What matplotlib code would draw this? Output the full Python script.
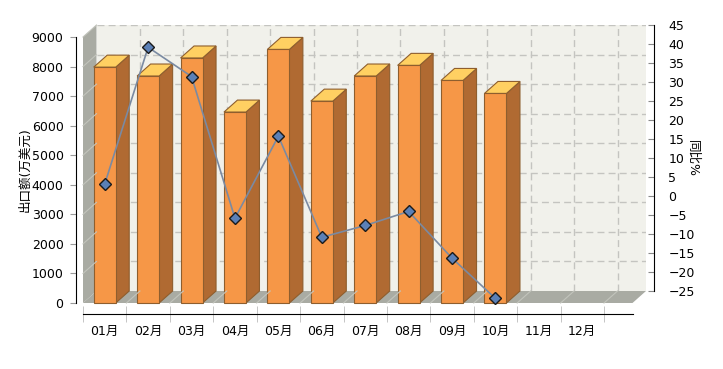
import matplotlib
matplotlib.use('Agg')
import matplotlib.pyplot as plt
from matplotlib.patches import Polygon, Rectangle

plt.rcParams['font.family'] = ['DejaVu Sans', 'Noto Sans CJK SC']

months = ['01月', '02月', '03月', '04月', '05月', '06月',
          '07月', '08月', '09月', '10月', '11月', '12月']
export = [7980, 7680, 8290, 6460, 8580, 6830, 7680, 8040, 7530, 7090]
yoy = [6.3, 42.3, 34.6, -2.7, 18.9, -7.7, -4.6, -0.9, -13.2, -23.8]

W, H = 723, 369
fig = plt.figure(figsize=(W / 100, H / 100), dpi=100)

# pixel geometry of the front plane
x0, x12, y0, y9k = 83, 604, 303, 37
cat_px = (x12 - x0) / 12
ddx_px, ddy_px = 13.5, 12
xend = 12 + 28.5 / cat_px          # floor / axis run past the last category
dxd = ddx_px / cat_px
dyd = ddy_px / (y0 - y9k) * 9000

# back wall axes (grid) + right axis
bl = (x0 + ddx_px) / W
bb = (H - (y0 - ddy_px)) / H
bw = (x12 - x0) / W * xend / 12
bh = (y0 - y9k) / H
axb = fig.add_axes([bl, bb, bw, bh])
axb.set_xlim(0, xend)
axb.set_ylim(0, 9000)
axb.set_facecolor('#f1f1eb')
for s in axb.spines.values():
    s.set_visible(False)
axb.set_xticks(range(1, 13))
axb.set_yticks(range(1000, 9001, 1000))
axb.grid(True, color='#c4c4c0', linestyle=(0, (5, 3)), linewidth=1)

axr = axb.twinx()
axb.tick_params(left=False, bottom=False, labelleft=False, labelbottom=False)
axr.set_ylim(-25, 45)
axr.set_yticks(range(-25, 46, 5))
for k in ['left', 'top', 'bottom']:
    axr.spines[k].set_visible(False)
axr.spines['right'].set_position(('outward', 6))
axr.tick_params(axis='y', direction='in', length=4, color='#888888',
                labelsize=9, pad=10)

# front plane axes
ax = fig.add_axes([x0 / W, (H - y0) / H, (x12 - x0) / W, (y0 - y9k) / H])
ax.patch.set_visible(False)
ax.set_xlim(0, 12)
ax.set_ylim(0, 9000)
ax.spines['top'].set_visible(False)
ax.spines['right'].set_visible(False)
ax.spines['left'].set_position(('outward', 5))
ax.spines['bottom'].set_position(('outward', 8))
ax.spines['bottom'].set_bounds(0, xend)

wall = '#a9aba3'
ax.add_patch(Polygon([(0, 0), (0, 9000), (dxd, 9000 + dyd), (dxd, dyd)],
                     closed=True, fc=wall, ec='none', clip_on=False))
ax.add_patch(Polygon([(0, 0), (xend, 0), (xend + dxd, dyd), (dxd, dyd)],
                     closed=True, fc=wall, ec='none', clip_on=False))
for v in range(1000, 9001, 1000):
    ax.plot([0, dxd], [v, v + dyd], color='#c2c4bc', lw=0.8, clip_on=False)
for k in range(1, 13):
    ax.plot([k, k + dxd], [0, dyd], color='#c2c4bc', lw=0.8, clip_on=False)

bw_cat = 22 / cat_px
edge = '#8e5e2e'
for i, v in enumerate(export):
    xa = i + 0.5 - bw_cat / 2
    xb = xa + bw_cat
    ax.add_patch(Polygon([(xb, 0), (xb + dxd, dyd), (xb + dxd, v + dyd), (xb, v)],
                         closed=True, fc='#b06a32', ec=edge, lw=0.8, clip_on=False))
    ax.add_patch(Polygon([(xa, v), (xb, v), (xb + dxd, v + dyd), (xa + dxd, v + dyd)],
                         closed=True, fc='#ffd062', ec=edge, lw=0.8, clip_on=False))
    ax.add_patch(Rectangle((xa, 0), bw_cat, v, fc='#f69747', ec=edge, lw=0.8,
                           clip_on=False))

axl = ax.twinx()
axl.set_ylim(-25, 45)
axl.axis('off')
axl.plot([i + 0.5 for i in range(len(yoy))], yoy, color='#7a8aa2', lw=1.2,
         marker='D', ms=6.5, mfc='#5b80b6', mec='#1a1a1a', mew=1, clip_on=False)

ax.set_yticks(range(0, 9001, 1000))
ax.tick_params(axis='y', length=4, color='#999999', labelsize=9, pad=5)
ax.set_xticks([i + 0.5 for i in range(12)])
ax.set_xticklabels(months)
ax.set_xticks(range(13), minor=True)
ax.tick_params(axis='x', which='major', length=0, labelsize=9, pad=8)
ax.tick_params(axis='x', which='minor', length=12, direction='inout',
               color='#bbbbbb')

fig.text(25 / W, 1 - 170 / H, '出口额(万美元)', rotation=90, fontsize=9,
         ha='center', va='center')
fig.text(693 / W, 1 - 158 / H, '同比%', rotation=-90, fontsize=9,
         ha='center', va='center')

fig.savefig('out.png', dpi=100)
